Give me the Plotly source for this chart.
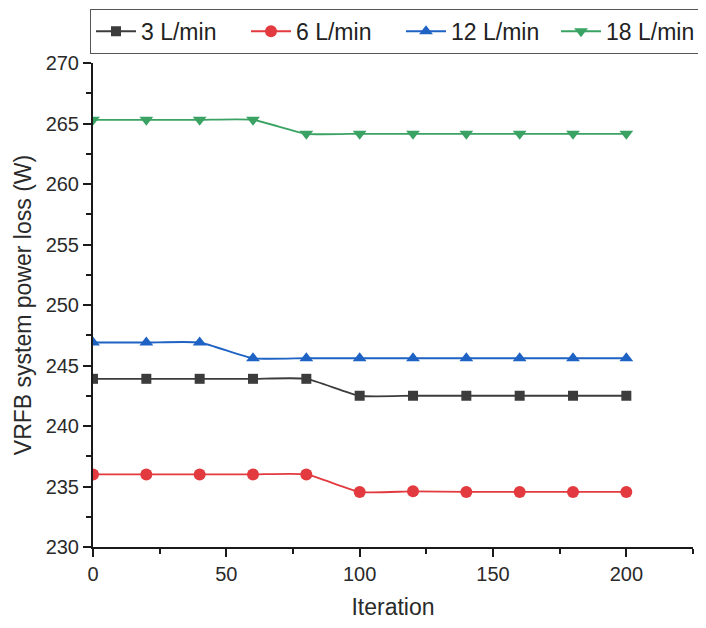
import plotly.graph_objects as go

iterations = [0, 20, 40, 60, 80, 100, 120, 140, 160, 180, 200]
loss_3 = [243.9, 243.9, 243.9, 243.9, 243.9, 242.5, 242.5, 242.5, 242.5, 242.5, 242.5]
loss_6 = [236.0, 236.0, 236.0, 236.0, 236.0, 234.55, 234.6, 234.55, 234.55, 234.55, 234.55]
loss_12 = [246.9, 246.9, 246.9, 245.6, 245.6, 245.6, 245.6, 245.6, 245.6, 245.6, 245.6]
loss_18 = [265.3, 265.3, 265.3, 265.3, 264.15, 264.15, 264.15, 264.15, 264.15, 264.15, 264.15]

series_names = ["3 L/min", "6 L/min", "12 L/min", "18 L/min"]
series_vals = [loss_3, loss_6, loss_12, loss_18]
colors = ["#3c3c3c", "#e23a3f", "#1e62c4", "#3aa363"]
symbols = ["square", "circle", "triangle-up", "triangle-down"]
sizes = [10, 12, 12, 12]

fig = go.Figure()
for name, vals, c, s, sz in zip(series_names, series_vals, colors, symbols, sizes):
    fig.add_trace(go.Scatter(
        x=iterations, y=vals, name=name, mode="lines+markers",
        line=dict(color=c, width=1.8, shape="spline", smoothing=0.5),
        marker=dict(symbol=s, size=sz, color=c),
    ))

font_family = "Liberation Sans, Arial, sans-serif"
fig.update_layout(
    width=706, height=628,
    margin=dict(l=85, r=21, t=55, b=89, autoexpand=False),
    paper_bgcolor="white", plot_bgcolor="white",
    font=dict(family=font_family, color="#2a2a2a", size=20),
    showlegend=True,
    legend=dict(
        orientation="h", x=-0.005, y=1.112, xanchor="left", yanchor="top",
        bordercolor="#555555", borderwidth=1,
        font=dict(size=23, color="#222222"),
        itemwidth=40, tracegroupgap=0,
        entrywidth=100, entrywidthmode="pixels",
    ),
    xaxis=dict(
        range=[0, 225], tickvals=[0, 50, 100, 150, 200],
        showline=True, linecolor="#1a1a1a", linewidth=2,
        ticks="outside", ticklen=8, tickwidth=2, tickcolor="#1a1a1a",
        minor=dict(tickvals=[25, 75, 125, 175, 225], ticks="outside", ticklen=5, tickwidth=2, tickcolor="#1a1a1a"),
        showgrid=False, zeroline=False,
        title=dict(text="Iteration", font=dict(size=23), standoff=15),
        tickfont=dict(size=20),
    ),
    yaxis=dict(
        range=[230, 270], tickvals=[230, 235, 240, 245, 250, 255, 260, 265, 270],
        showline=True, linecolor="#1a1a1a", linewidth=2,
        ticks="outside", ticklen=8, tickwidth=2, tickcolor="#1a1a1a",
        minor=dict(dtick=2.5, ticks="outside", ticklen=5, tickwidth=2, tickcolor="#1a1a1a"),
        showgrid=False, zeroline=False,
        title=dict(text="VRFB system power loss (W)", font=dict(size=23), standoff=8),
        tickfont=dict(size=20),
    ),
)

fig.write_html("out.html")
